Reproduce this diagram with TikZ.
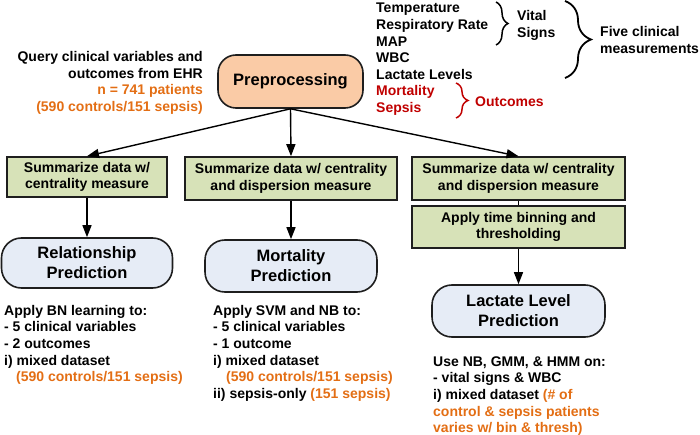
\documentclass[tikz,border=0pt]{standalone}
\usepackage{fontspec}
\setmainfont{Liberation Sans}
\usetikzlibrary{arrows.meta,decorations.pathreplacing}
\definecolor{peach}{RGB}{250,203,166}
\definecolor{greenfill}{RGB}{215,226,184}
\definecolor{bluefill}{RGB}{230,236,246}
\definecolor{orangetxt}{RGB}{227,110,20}
\definecolor{redtxt}{RGB}{192,0,0}
\definecolor{edge}{RGB}{30,30,30}
\begin{document}
\begin{tikzpicture}[x=1pt,y=-1pt,
  txt/.style={font=\fontsize{14}{16.7}\selectfont\bfseries, inner sep=0pt, anchor=base west},
  rtxt/.style={txt, anchor=base east},
  gbox/.style={draw=edge, line width=1.6pt, fill=greenfill, align=center, inner sep=0pt,
    font=\fontsize{14}{16.7}\selectfont\bfseries},
  bnode/.style={draw=edge, line width=1.6pt, fill=bluefill, align=center, inner sep=0pt,
    rounded corners=20pt, font=\fontsize{16.5}{20}\selectfont\bfseries},
  arr/.style={line width=1.4pt, -{Triangle[length=12pt,width=9pt]}},
  brc/.style={decorate, line width=1.5pt}
]
\useasboundingbox (0,0) rectangle (700,435);

% Preprocessing
\node[draw=edge, line width=1.6pt, fill=peach, rounded corners=18pt, minimum width=145pt,
  minimum height=53pt, inner sep=0pt, font=\fontsize{16.5}{20}\selectfont\bfseries]
  (pre) at (290.5,81.5) {Preprocessing};

% Query text
\node[rtxt] (q1) at (203,61.5) {Query clinical variables and};
\node[rtxt] (q2) at (203,78.2) {outcomes from EHR};
\node[rtxt, text=orangetxt] (q3) at (203,94.8) {n = 741 patients};
\node[rtxt, text=orangetxt] (q4) at (203,111.4) {(590 controls/151 sepsis)};

% variable list
\node[txt] (v1) at (376,13) {Temperature};
\node[txt] (v2) at (376,29.6) {Respiratory Rate};
\node[txt] (v3) at (376,46.2) {MAP};
\node[txt] (v4) at (376,62.8) {WBC};
\node[txt] (v5) at (376,79.4) {Lactate Levels};
\node[txt, text=redtxt] (v6) at (376,96) {Mortality};
\node[txt, text=redtxt] (v7) at (376,112.6) {Sepsis};

\draw[brc, decoration={brace, amplitude=12pt}] (496,2) -- (496,45);
\node[txt] (vs1) at (517,20.7) {Vital};
\node[txt] (vs2) at (517,37.3) {Signs};

\draw[brc, line width=1.8pt, decoration={brace, amplitude=26pt}] (565,1) -- (565,78);
\node[txt] (f1) at (600,36.7) {Five clinical};
\node[txt] (f2) at (600,53.3) {measurements};

\draw[brc, draw=redtxt, decoration={brace, amplitude=12pt}] (456,83) -- (456,118);
\node[txt, text=redtxt] (oc) at (475,106.5) {Outcomes};

% green boxes
\node[gbox, minimum width=160pt, minimum height=40pt] (b1) at (87,177)
  {Summarize data w/\\centrality measure};
\node[gbox, minimum width=212pt, minimum height=43pt] (b2) at (291,178.5)
  {Summarize data w/ centrality\\and dispersion measure};
\node[gbox, minimum width=213pt, minimum height=43pt] (b3) at (518.5,178.5)
  {Summarize data w/ centrality\\and dispersion measure};
\node[gbox, minimum width=213pt, minimum height=42pt] (b4) at (518.5,227)
  {Apply time binning and\\thresholding};

% blue nodes
\node[bnode, minimum width=171pt, minimum height=50pt] (r1) at (87,263)
  {Relationship\\Prediction};
\node[bnode, minimum width=172pt, minimum height=52pt] (r2) at (291,266)
  {Mortality\\Prediction};
\node[bnode, minimum width=173pt, minimum height=52pt] (r3) at (518.5,311)
  {Lactate Level\\Prediction};

% connectors
\draw[arr] (pre.south) -- (b1.north);
\draw[arr] (pre.south) -- (b2.north);
\draw[arr] (pre.south) -- (b3.north);
\draw[line width=1.4pt] (b3.south) -- (b4.north);
\draw[arr] (b1.south) -- (r1.north);
\draw[arr] (b2.south) -- (r2.north);
\draw[arr] (b4.south) -- (r3.north);

% bottom-left text
\node[txt] (l1) at (4,315) {Apply BN learning to:};
\node[txt] (l2) at (4,331.7) {- 5 clinical variables};
\node[txt] (l3) at (4,348.4) {- 2 outcomes};
\node[txt] (l4) at (4,365) {i) mixed dataset};
\node[txt, text=orangetxt] (l5) at (16,381.7) {(590 controls/151 sepsis)};

% bottom-middle text
\node[txt] (m1) at (213,315) {Apply SVM and NB to:};
\node[txt] (m2) at (213,331.7) {- 5 clinical variables};
\node[txt] (m3) at (213,348.4) {- 1 outcome};
\node[txt] (m4) at (213,365) {i) mixed dataset};
\node[txt, text=orangetxt] (m5) at (226,381.7) {(590 controls/151 sepsis)};
\node[txt] (m6) at (213,398.4) {ii) sepsis-only \textcolor{orangetxt}{(151 sepsis)}};

% bottom-right text
\node[txt] (n1) at (433,366) {Use NB, GMM, \& HMM on:};
\node[txt] (n2) at (433,382.7) {- vital signs \& WBC};
\node[txt] (n3) at (433,399.4) {i) mixed dataset \textcolor{orangetxt}{(\# of}};
\node[txt, text=orangetxt] (n4) at (433,416) {control \& sepsis patients};
\node[txt, text=orangetxt] (n5) at (433,432.7) {varies w/ bin \& thresh)};
\end{tikzpicture}
\end{document}
